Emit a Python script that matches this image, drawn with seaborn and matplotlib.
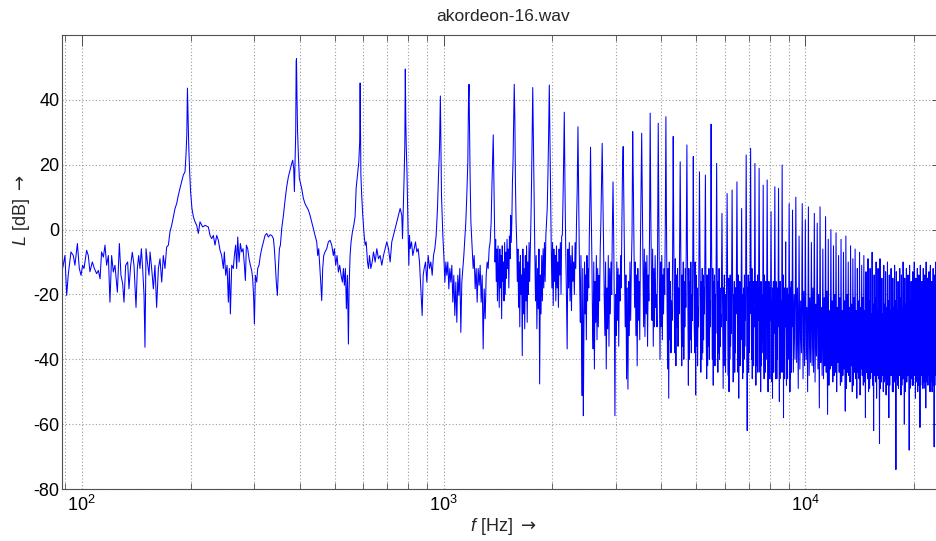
import numpy as np
import pandas as pd
import matplotlib
matplotlib.use("Agg")
import matplotlib.pyplot as plt
import seaborn as sns
from matplotlib.ticker import LogLocator, NullFormatter, FixedLocator

# ---------------- data ----------------
title_text = "akordeon-16.wav"
y_ticks = [-80, -60, -40, -20, 0, 20, 40]

# low band 88 - 224 Hz
band_a_hz = [88.6, 89.9, 90.9, 91.8, 93.4, 94.8, 95.8, 97.3, 98.5, 99.6,
             100.6, 101.5, 103.2, 104.3, 105.4, 107.0, 108.4, 110.0, 111.2, 112.4,
             113.5, 114.8, 116.0, 117.2, 118.5, 119.7, 121.0, 122.3, 123.6, 125.5,
             127.1, 128.4, 129.8, 130.9, 132.3, 134.0, 135.1, 136.6, 138.0, 139.5,
             141.3, 142.5, 143.7, 144.9, 146.2, 147.4, 148.7, 149.6, 150.6, 151.9,
             153.5, 154.5, 156.1, 157.8, 159.4, 161.1, 162.9, 164.6, 166.4, 168.1,
             169.9, 171.7, 173.6, 175.4, 177.3, 179.2, 181.1, 183.0, 185.0, 186.9,
             188.9, 190.9, 193.0, 194.2, 195.2, 196.0, 196.8, 197.6, 198.8, 200.0,
             201.7, 203.6, 205.7, 207.9, 210.1, 212.3, 216.0, 219.2, 223.9]
band_a_db = [-12, -8, -20.3, -14, -6.9, -8, -11, -4.3, -12, -14.1,
             -11, -12, -6.4, -8, -13, -10, -12, -13.6, -12.6, -15.2,
             -6.9, -8.5, -4.8, -11, -8, -22.4, -8, -13.1, -11, -19.3,
             -4.3, -14.1, -16.7, -22.4, -11, -10, -18.3, -11, -7, -11,
             -24, -12, -8, -12, -5.9, -12, -20.3, -36.3, -5.9, -10,
             -14.1, -6.9, -12, -18.3, -11, -24, -12, -9, -16.2, -8,
             -12, -5.4, -4.8, -0.7, 1.3, 3.9, 6.5, 8, 10.6, 12.7,
             14.7, 16.8, 17.8, 23, 29.2, 43.6, 34.3, 26, 17.8, 11.6,
             6.5, 3.9, 2.4, 1.3, -1.2, 2.4, 0.8, 1.3, 0.8]

# band 226 - 570 Hz
band_b_hz = [226.3, 228.7, 231.1, 233.6, 236.1, 238.6, 241.2, 243.7, 246.3, 247.9,
             250.0, 252.2, 254.3, 255.9, 257.6, 259.8, 262.5, 264.2, 266.4, 268.1,
             269.9, 272.2, 274.5, 276.8, 279.2, 281.6, 283.4, 285.2, 287.6, 290.1,
             292.5, 295.0, 296.9, 298.8, 300.1, 302.0, 304.6, 306.5, 309.1, 311.7,
             314.4, 317.8, 321.2, 324.6, 328.1, 331.6, 335.1, 338.7, 340.8, 343.0,
             345.2, 347.4, 349.6, 351.9, 354.1, 357.1, 361.0, 364.8, 368.6, 372.6,
             376.5, 380.6, 383.0, 385.4, 387.1, 388.7, 390.4, 391.5, 392.3, 393.5,
             395.0, 397.0, 399.5, 405.5, 409.9, 414.2, 418.6, 423.1, 427.6, 432.2,
             436.8, 441.4, 446.2, 449.0, 451.9, 454.8, 457.7, 460.6, 463.5, 466.5,
             470.4, 475.5, 480.5, 485.7, 490.9, 496.1, 499.3, 503.5, 507.8, 512.2,
             516.5, 521.0, 525.4, 528.8, 532.1, 535.5, 538.9, 542.4, 545.9, 548.2,
             551.7, 555.2, 560.0, 564.8, 569.5]
band_b_db = [-1.8, -2.8, -1.8, -4.8, -1.8, -3.3, -6.4, -8, -12, -6.9,
             -14.1, -11, -22.4, -12, -26, -11, -12, -8, -4.8, -12,
             -2.3, -10, -4.3, -6.9, -5.9, -11, -15.7, -4.8, -5.9, -9,
             -11, -12.6, -15.2, -21.3, -29.1, -14.1, -16.2, -12, -11, -8,
             -5.9, -3.8, -1.8, -1.2, -2.3, -1.6, -1.8, -2.8, -5.9, -11,
             -16.7, -20.3, -12, -5.9, -4.8, 0.3, 4.4, 9.1, 13.2, 16.3,
             18.3, 20.4, 21.4, 18.9, 11.7, 20.9, 30.2, 51.9, 52.7, 41.5,
             30.2, 23, 15.8, 12.7, 9.6, 8, 7, 6, 4.4, 2.4,
             0.3, -1.8, -3.8, -8, -5.9, -11, -16.2, -21.9, -12, -8,
             -6.9, -5.9, -3.8, -3.3, -4.8, -8, -5.9, -11, -8, -13.1,
             -11, -14.1, -16.2, -12, -17.2, -12, -24.4, -14.1, -35.3, -18.3,
             -8, -3.8, -0.7, 1.3, 3.9]

# band 573 - 1366 Hz
band_c_hz = [573.4, 578.3, 583.2, 586.5, 587.5, 588.2, 589.5, 591.0, 594.0, 598.0,
             603.4, 607.3, 611.2, 616.4, 620.2, 624.3, 629.6, 635.0, 640.4, 647.2,
             654.0, 660.9, 668.0, 675.1, 682.4, 689.6, 696.9, 704.4, 711.9, 719.4,
             727.1, 734.9, 742.8, 750.7, 758.7, 766.8, 770.1, 775.0, 778.3, 781.6,
             784.0, 786.5, 789.0, 792.0, 795.0, 798.4, 801.8, 805.2, 808.6, 815.5,
             822.4, 829.5, 836.5, 843.7, 850.9, 858.1, 865.4, 872.8, 878.4, 884.0,
             891.6, 899.2, 906.9, 914.6, 922.4, 930.3, 938.1, 946.1, 954.1, 962.2,
             968.4, 974.6, 980.0, 983.0, 987.0, 995.5, 1001.8, 1008.3, 1014.7, 1021.1,
             1027.6, 1034.2, 1040.8, 1047.4, 1054.1, 1060.8, 1067.6, 1074.4, 1081.3, 1088.2,
             1095.1, 1102.1, 1109.2, 1116.2, 1123.3, 1130.5, 1137.7, 1145.0, 1152.3, 1159.6,
             1167.1, 1172.0, 1176.0, 1180.0, 1184.0, 1190.0, 1199.7, 1207.3, 1215.1, 1222.8,
             1230.6, 1238.5, 1246.4, 1254.4, 1262.4, 1270.4, 1278.6, 1286.8, 1295.0, 1303.3,
             1311.6, 1319.9, 1328.4, 1336.9, 1345.3, 1353.9, 1360.0, 1366.0]
band_c_db = [12.7, 16.8, 20.9, 27.1, 39.5, 45.2, 33.3, 16.8, 10.6, 4.4,
             -1.8, -4.8, -3.8, -10, -12, -8, -12, -10, -6.9, -10,
             -5.9, -9, -8, -11, -8, -5.9, -3.8, -5.9, -10, -3.8,
             -1.8, 0.3, 2.4, 4.4, 6.5, 4.4, -2.8, 8.6, 16.8, 26.1,
             49.5, 33.3, 25.1, 18.9, 8.6, -1.8, -11, -1.8, -5.9, -3.8,
             -8, -5.9, -3.8, -6.9, -5.9, -10, -18.3, -26.5, -14.1, -12,
             -10, -16.2, -8, -12, -10, -14.1, -8, -5.9, -1.8, 6.5,
             16.8, 25.1, 41.2, 29.2, 10.6, -1.8, -8, -16.2, -10, -14.1,
             -10, -18.3, -12, -16.2, -11, -22.4, -14.1, -26.5, -16.2, -28.6,
             -14.1, -20.3, -12, -31.7, -16.2, -12, -8, -2.8, 2.4, 10.6,
             20.9, 39.5, 44.8, 30.2, 16.8, 2.4, -5.9, -12, -8, -18.3,
             -12, -22.4, -12, -17.2, -11, -22.4, -14.1, -36.8, -18.3, -27.5,
             -14.1, -10, -12, -5.9, -3.8, 2.4, 12.7, 20.9]

# harmonics of the 196 Hz fundamental (7th .. 122nd)
harmonic_hz = [1372, 1568, 1764, 1960, 2156, 2352, 2548, 2744, 2940, 3136,
               3332, 3528, 3724, 3920, 4116, 4312, 4508, 4704, 4900, 5096,
               5292, 5488, 5684, 5880, 6076, 6272, 6468, 6664, 6860, 7056,
               7252, 7448, 7644, 7840, 8036, 8232, 8428, 8624, 8820, 9016,
               9212, 9408, 9604, 9800, 9996, 10192, 10388, 10584, 10780, 10976,
               11172, 11368, 11564, 11760, 11956, 12152, 12348, 12544, 12740, 12936,
               13132, 13328, 13524, 13720, 13916, 14112, 14308, 14504, 14700, 14896,
               15092, 15288, 15484, 15680, 15876, 16072, 16268, 16464, 16660, 16856,
               17052, 17248, 17444, 17640, 17836, 18032, 18228, 18424, 18620, 18816,
               19012, 19208, 19404, 19600, 19796, 19992, 20188, 20384, 20580, 20776,
               20972, 21168, 21364, 21560, 21756, 21952, 22148, 22344, 22540, 22736,
               22932, 23128, 23324, 23520, 23716, 23912]

# peak level at harmonics 7 .. 46
peak_db_mid = [29.2, 44.8, 43.8, 44.6, 36.2, 31.7, 25.4, 26.6, 14.7, 25.6,
               30.2, 29.7, 35.9, 32.8, 34.8, 28.7, 20.9, 26.1, 22.5, 17.8,
               16.8, 32.5, 20.4, 5.0, 11.1, 12.2, 14.7, 6.5, 23.0, 25.1,
               20.4, 18.9, 13.7, 15.3, 5.5, 13.2, 12.7, 19.9, -3.8, 8.0]

# levels between harmonic n and n+1 (n = 7 .. 46)
gap_db_mid = [
    [15.8, 4.4, -10, -3, -16, -6, -22, -5, -14, -24, -6, -18, -8, -27.5, -5, -16, -10, -22, -4, -20, -7, -15, -3, -12, -6, -18, -2, -9, 4.4, -4, 2.4, 14.7, 20.9, 33.3],
    [34.3, 13.7, 2.4, -3.8, -16, -6, -24, -10, -30, -8, -20, -14, -38.9, -6, -26, -12, -30.6, -8, -22, -5, -28.6, -10, -20, -4, -16, -6.9, 2.4, 13.7, 29.2],
    [26.1, 10.6, -6.9, -22, -8, -30.6, -12, -24.4, -6, -47.6, -14, -26, -8, -22, -5.9, -18, -4, -16, -1.8, 2.4, 6.5, 16.8, 29.2],
    [27.1, 8.6, -5.9, -18, -4, -23.4, -6, -16, -8, -22, -5, -18, -10, -24, -6, -14, -4, -20, -2, -1.8, 8.6, 20.9],
    [12.7, -5.9, -20, -36.8, -6, -18, -4, -22, -8, -25, -5, -16, -10, -20, -4, -12, 2.4, 12.7],
    [13.7, -3.8, -18.3, -28.6, -8, -32.7, -51.2, -12, -57.4, -30.6, -10, -26, -14, -34, -8, -22, -12, -18, -1.8, 10.6],
    [6.5, -8, -26.5, -36.8, -10, -43, -16, -28.6, -8, -34, -12, -30, -14.1, -22, -6, 2.4, 13.7],
    [10.6, -3.8, -20.3, -32.7, -10, -43, -18, -30.6, -8, -36, -12, -26, -10, -20, 0.3],
    [-1.8, -22.4, -57.4, -20, -32.7, -10, -28, -12, -36, -14, -22, -8, -18, 2.4, 18.9],
    [8.6, -12, -30, -14, -46.1, -18, -49.2, -16, -32.7, -10, -28, -12, -1.8],
    [13.7, -5.9, -24, -10, -32.7, -14, -42, -12, -28, -16, -34, -5.9, 10.6],
    [8, -12, -30, -6, -33, -10, -26, -8, -36, -14, -22, -2],
    [6, -14, -28, -6, -36, -12, -30, -8, -24, -20, -30, -4],
    [4, -18, -40, -10, -30, -8, -34, -14, -26, -12, -20, 2],
    [2, -20, -43, -12, -52, -10, -34, -16, -38, -22, -28, -6],
    [-2, -24, -38, -9, -42, -14, -30, -12, -36, -18, -26, -4],
    [-6, -28, -42, -14, -36, -10, -40, -16, -30, -12, -24, 0],
    [-4, -22, -48, -12, -40, -16, -34, -10, -38, -20, -28, -6],
    [-8, -30, -38, -10, -51, -14, -36, -18, -42, -24, -30, -8],
    [-6, -26, -44, -16, -40, -12, -38, -14, -34, -18, -26, -2],
    [-10, -34, -46, -14, -42, -16, -36, -12, -40, -22, -30, 4],
    [-2, -24, -40, -12, -48, -16, -38, -14, -42, -20, -32, -6],
    [-8, -30, -44, -16, -38, -12, -40, -18, -36, -26, -30, -10],
    [-14, -36, -49, -18, -42, -14, -38, -20, -44, -20, -28, -6],
    [-12, -30, -45, -15, -50, -18, -40, -14, -36, -24, -32, -8],
    [-10, -32, -47, -20, -40, -16, -44, -18, -38, -18, -26, -4],
    [-8, -28, -44, -14, -52, -20, -40, -16, -42, -26, -34, -12],
    [-16, -38, -46, -20, -44, -18, -40, -14, -36, -22, -28, 2],
    [-6, -30, -62, -18, -42, -14, -44, -20, -38, -16, -26, 0],
    [-4, -26, -40, -12, -46, -18, -38, -16, -42, -24, -30, -8],
    [-10, -34, -48, -16, -42, -20, -40, -14, -44, -20, -28, -6],
    [-8, -30, -44, -18, -50, -16, -42, -20, -38, -26, -34, -10],
    [-12, -36, -46, -14, -40, -18, -44, -16, -40, -22, -30, -4],
    [-10, -28, -50, -20, -44, -16, -40, -22, -46, -18, -28, -12],
    [-16, -38, -47, -22, -52, -18, -42, -16, -44, -24, -32, -6],
    [-12, -32, -46, -16, -42, -20, -46, -18, -40, -20, -30, -8],
    [-10, -30, -53, -18, -46, -16, -42, -22, -44, -26, -34, -4],
    [-8, -34, -44, -14, -58, -20, -40, -18, -46, -22, -30, -14],
    [-18, -36, -48, -20, -42, -18, -46, -20, -40, -24, -32, -10],
    [-14, -32, -50, -18, -46, -20, -42, -16, -44, -22, -30, -12],
]

# top level at harmonics 47 .. 121
peak_db_high = [6, 10, -2, 8, 3, 7, -4, 5, 2, 7,
                -6, 4, -3, 0, -5, -1, -8, -3, -7, -2,
                -10, -5, -9, -6, -12, -7, -11, -8, -13, -9,
                -12, -7, -14, -10, -12, -9, -15, -11, -13, -10,
                -14, -12, -15, -11, -13, -16, -12, -14, -10, -15,
                -12, -14, -11, -16, -13, -10, -15, -12, -14, -11,
                -16, -12, -14, -10, -15, -13, -11, -16, -12, -14,
                -10, -13, -15, -11, -14]

# noise levels (low, high, low) between harmonic n and n+1 (n = 47 .. 121)
gap_db_high = [
    [-44, -20, -40], [-41, -18, -49], [-43, -22, -38], [-46, -19, -42], [-40, -24, -50],
    [-45, -21, -41], [-42, -18, -44], [-47, -23, -39], [-43, -20, -55], [-41, -24, -45],
    [-46, -21, -42], [-44, -19, -57], [-48, -25, -43], [-42, -22, -47], [-45, -20, -44],
    [-50, -24, -41], [-44, -21, -48], [-47, -25, -45], [-43, -22, -56], [-49, -20, -44],
    [-45, -24, -47], [-42, -23, -50], [-48, -21, -44], [-46, -25, -52], [-44, -22, -46],
    [-51, -24, -43], [-45, -21, -48], [-47, -25, -58], [-44, -23, -46], [-50, -22, -49],
    [-46, -26, -44], [-48, -23, -62], [-45, -21, -47], [-52, -25, -45], [-46, -24, -66],
    [-49, -22, -47], [-45, -26, -50], [-47, -23, -46], [-51, -24, -48], [-46, -22, -58],
    [-48, -25, -45], [-45, -23, -50], [-50, -24, -47], [-47, -22, -74], [-46, -25, -48],
    [-49, -23, -45], [-45, -21, -51], [-48, -24, -46], [-46, -22, -60], [-50, -23, -47],
    [-47, -21, -45], [-45, -24, -68], [-49, -22, -46], [-46, -20, -48], [-48, -23, -45],
    [-45, -21, -52], [-47, -22, -46], [-50, -20, -48], [-46, -23, -61], [-48, -21, -45],
    [-45, -22, -49], [-47, -20, -46], [-49, -23, -55], [-46, -21, -47], [-48, -20, -45],
    [-45, -22, -50], [-47, -19, -46], [-50, -21, -48], [-46, -20, -67], [-48, -22, -45],
    [-45, -19, -49], [-47, -21, -46], [-49, -20, -52], [-46, -22, -47], [-48, -19, -50],
]

# ---------------- assemble the trace ----------------
freq = list(band_a_hz) + list(band_b_hz) + list(band_c_hz)
level = list(band_a_db) + list(band_b_db) + list(band_c_db)
peaks = list(peak_db_mid) + list(peak_db_high)
gaps = list(gap_db_mid) + list(gap_db_high)
for i, (p, g) in enumerate(zip(peaks, gaps)):
    fa, fb = harmonic_hz[i], harmonic_hz[i + 1]
    freq.append(fa)
    level.append(p)
    pos = np.geomspace(fa, fb, len(g) + 2)[1:-1]
    freq.extend(pos.tolist())
    level.extend(g)

df = pd.DataFrame({"f": freq, "L": level})

# ---------------- styling ----------------
sns.set_theme(style="white")
plt.rcParams["font.family"] = ["Liberation Sans", "DejaVu Sans"]
plt.rcParams["axes.unicode_minus"] = False
plt.rcParams["mathtext.fontset"] = "custom"
plt.rcParams["mathtext.rm"] = "Liberation Sans"
plt.rcParams["mathtext.it"] = "Liberation Sans:italic"
plt.rcParams["mathtext.sf"] = "DejaVu Sans"

fig = plt.figure(figsize=(9.37, 5.41), dpi=100)
ax = fig.add_axes([62.3 / 937, 52 / 541, (943 - 62.3) / 937, (489 - 35) / 541])

sns.lineplot(data=df, x="f", y="L", sort=False, estimator=None,
             color="#0000ff", linewidth=0.75, ax=ax)

ax.set_xscale("log")
ax.set_xlim(88.4, 24000)
ax.set_ylim(-80, 60)
ax.yaxis.set_major_locator(FixedLocator(y_ticks))
ax.xaxis.set_major_locator(LogLocator(base=10))
ax.xaxis.set_minor_locator(LogLocator(base=10, subs=np.arange(2, 10)))
ax.xaxis.set_minor_formatter(NullFormatter())

grid_kw = dict(color="#9a9a9a", linestyle=(0, (1, 2)), linewidth=0.8)
ax.grid(True, which="major", axis="both", **grid_kw)
ax.grid(True, which="minor", axis="x", **grid_kw)
ax.set_axisbelow(True)

for s in ax.spines.values():
    s.set_color("#505050")
    s.set_linewidth(0.8)

ax.tick_params(axis="both", which="major", direction="in", length=8, width=0.7,
               color="#505050", top=True, right=True, labelsize=13, labelcolor="black")
ax.tick_params(axis="y", which="major", pad=2)
ax.tick_params(axis="x", which="major", pad=4)
ax.tick_params(axis="x", which="minor", direction="in", length=4, width=0.6,
               color="#505050", top=True, bottom=True)

ax.set_title(title_text, fontsize=12.5, pad=10)
ax.set_xlabel(r"$f$ [Hz] $\mathsf{\rightarrow}$", fontsize=13, labelpad=1)
ax.set_ylabel(r"$L$ [dB] $\mathsf{\rightarrow}$", fontsize=13, labelpad=6)
ax.yaxis.set_label_coords(-30 / 880.7, (489 - 210) / 454)

fig.savefig("out.png", dpi=100)
